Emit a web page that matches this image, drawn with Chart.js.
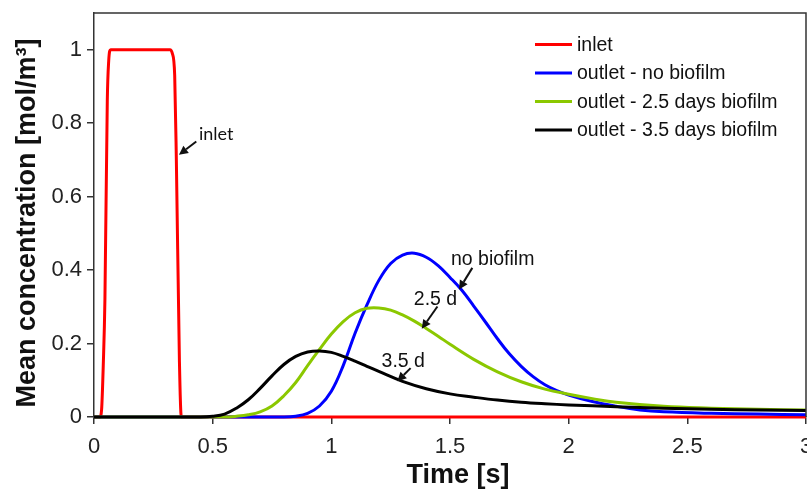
<!DOCTYPE html>
<html>
<head>
<meta charset="utf-8">
<script src="https://cdn.jsdelivr.net/npm/chart.js@4.4.1/dist/chart.umd.min.js"></script>
<style>
  html, body { margin: 0; padding: 0; background: #fff; overflow: hidden; }
  #wrap { position: relative; width: 807px; height: 493px; }
</style>
</head>
<body>
<div id="wrap"><canvas id="concChart"></canvas></div>
<script>
// Pulse tracer: inlet step and outlet response for three biofilm states
const inletTime = [0, 0.025, 0.032, 0.039, 0.046, 0.056, 0.062, 0.070, 0.320, 0.330, 0.340, 0.347, 0.360, 0.368, 3.0];
const inletConc = [0, 0, 0.02, 0.14, 0.32, 0.86, 0.97, 1.0, 1.0, 0.99, 0.93, 0.70, 0.15, 0, 0];

const noBiofilmTime = [0, 0.80, 0.85, 0.90, 0.95, 1.00, 1.05, 1.10, 1.15, 1.20, 1.25, 1.30, 1.35, 1.40, 1.45, 1.50, 1.55, 1.60, 1.65, 1.70, 1.75, 1.80, 1.85, 1.90, 1.95, 2.00, 2.10, 2.20, 2.30, 2.40, 2.60, 2.80, 3.00];
const noBiofilmConc = [0, 0, 0.002, 0.010, 0.030, 0.070, 0.140, 0.228, 0.305, 0.372, 0.418, 0.441, 0.446, 0.435, 0.412, 0.380, 0.345, 0.302, 0.258, 0.213, 0.172, 0.138, 0.110, 0.088, 0.072, 0.060, 0.042, 0.029, 0.019, 0.014, 0.010, 0.008, 0.006];

const days25Time = [0, 0.55, 0.60, 0.65, 0.70, 0.75, 0.80, 0.85, 0.90, 0.95, 1.00, 1.05, 1.10, 1.15, 1.20, 1.25, 1.30, 1.35, 1.40, 1.45, 1.50, 1.60, 1.70, 1.80, 1.90, 2.00, 2.10, 2.20, 2.40, 2.60, 2.80, 3.00];
const days25Conc = [0, 0, 0.002, 0.006, 0.014, 0.030, 0.058, 0.094, 0.140, 0.184, 0.226, 0.260, 0.284, 0.296, 0.297, 0.291, 0.278, 0.261, 0.241, 0.220, 0.198, 0.157, 0.123, 0.096, 0.076, 0.062, 0.050, 0.040, 0.029, 0.024, 0.021, 0.019];

const days35Time = [0, 0.45, 0.50, 0.55, 0.60, 0.65, 0.70, 0.75, 0.80, 0.85, 0.90, 0.95, 1.00, 1.05, 1.10, 1.15, 1.20, 1.30, 1.40, 1.50, 1.60, 1.70, 1.80, 1.90, 2.00, 2.20, 2.40, 2.60, 2.80, 3.00];
const days35Conc = [0, 0, 0.002, 0.008, 0.024, 0.047, 0.078, 0.112, 0.143, 0.165, 0.177, 0.180, 0.176, 0.165, 0.152, 0.138, 0.124, 0.097, 0.077, 0.063, 0.054, 0.046, 0.040, 0.036, 0.033, 0.028, 0.024, 0.021, 0.019, 0.018];

const seriesLabels = ['inlet', 'outlet - no biofilm', 'outlet - 2.5 days biofilm', 'outlet - 3.5 days biofilm'];
const seriesColors = ['#ff0000', '#0000ff', '#8bc800', '#000000'];

const xTicks = [0, 0.5, 1, 1.5, 2, 2.5, 3];
const yTicks = [0, 0.2, 0.4, 0.6, 0.8, 1];

const xTitle = 'Time [s]';
const yTitle = 'Mean concentration [mol/m³]';

// text callouts with arrows, in data units
const callouts = [
    { text: 'inlet', x: 0.442, y: 0.755, align: 'left', font: '18px Lato', from: [0.431, 0.750], to: [0.358, 0.714] },
    { text: 'no biofilm', x: 1.680, y: 0.415, align: 'center', font: '19.5px "Liberation Sans"', from: [1.594, 0.406], to: [1.538, 0.347] },
    { text: '2.5 d', x: 1.439, y: 0.306, align: 'center', font: '19.5px "Liberation Sans"', from: [1.447, 0.301], to: [1.381, 0.240] },
    { text: '3.5 d', x: 1.303, y: 0.137, align: 'center', font: '19.5px "Liberation Sans"', from: [1.334, 0.133], to: [1.278, 0.097] }
];

function toPoints(xs, ys) {
    return xs.map((x, i) => ({ x: x, y: ys[i] }));
}

const AXIS_COLOR = '#333';
const TITLE_FONT = 'bold 27px "Liberation Sans"';

function drawArrow(ctx, x1, y1, x2, y2) {
    const ang = Math.atan2(y2 - y1, x2 - x1);
    const head = 9;
    const bx = x2 - Math.cos(ang) * head;
    const by = y2 - Math.sin(ang) * head;
    ctx.beginPath();
    ctx.moveTo(x1, y1);
    ctx.lineTo(bx, by);
    ctx.stroke();
    ctx.beginPath();
    ctx.moveTo(x2, y2);
    ctx.lineTo(bx + Math.sin(ang) * 4.5, by - Math.cos(ang) * 4.5);
    ctx.lineTo(bx - Math.sin(ang) * 4.5, by + Math.cos(ang) * 4.5);
    ctx.closePath();
    ctx.fill();
}

// frame on top/right, axis titles, legend box and callouts
const decorPlugin = {
    id: 'decor',
    afterDraw(chart) {
        const ctx = chart.ctx;
        const area = chart.chartArea;
        const xs = chart.scales.x;
        const ys = chart.scales.y;
        ctx.save();

        ctx.strokeStyle = AXIS_COLOR;
        ctx.lineWidth = 1.5;
        ctx.beginPath();
        ctx.moveTo(area.left, area.top);
        ctx.lineTo(area.right, area.top);
        ctx.lineTo(area.right, area.bottom);
        ctx.stroke();

        // axis titles, nudged a little off centre
        ctx.fillStyle = '#111';
        ctx.font = TITLE_FONT;
        ctx.textAlign = 'center';
        ctx.textBaseline = 'middle';
        ctx.fillText(xTitle, (area.left + area.right) / 2 + 8, 476);
        ctx.save();
        ctx.translate(28, (area.top + area.bottom) / 2 + 8);
        ctx.rotate(-Math.PI / 2);
        ctx.fillText(yTitle, 0, 0);
        ctx.restore();

        // legend
        ctx.font = '19.5px "Liberation Sans"';
        ctx.textAlign = 'left';
        ctx.textBaseline = 'middle';
        chart.data.datasets.forEach((ds, i) => {
            const y = area.top + 31.5 + i * 28.5;
            ctx.strokeStyle = ds.borderColor;
            ctx.lineWidth = 3;
            ctx.beginPath();
            ctx.moveTo(area.right - 271, y);
            ctx.lineTo(area.right - 234, y);
            ctx.stroke();
            ctx.fillStyle = '#111';
            ctx.fillText(ds.label, area.right - 229, y + 1);
        });

        // callouts
        ctx.textBaseline = 'alphabetic';
        ctx.fillStyle = '#111';
        ctx.strokeStyle = '#111';
        ctx.lineWidth = 2;
        callouts.forEach(c => {
            ctx.font = c.font;
            ctx.textAlign = c.align;
            ctx.fillText(c.text, xs.getPixelForValue(c.x), ys.getPixelForValue(c.y));
            drawArrow(ctx,
                xs.getPixelForValue(c.from[0]), ys.getPixelForValue(c.from[1]),
                xs.getPixelForValue(c.to[0]), ys.getPixelForValue(c.to[1]));
        });
        ctx.restore();
    }
};

const pairs = [[inletTime, inletConc], [noBiofilmTime, noBiofilmConc], [days25Time, days25Conc], [days35Time, days35Conc]];
// red goes underneath, then blue, green, black on top
const drawOrder = [4, 3, 2, 1];

const ctx = document.getElementById('concChart').getContext('2d');
new Chart(ctx, {
    type: 'line',
    data: {
        datasets: pairs.map((p, i) => ({
            label: seriesLabels[i],
            data: toPoints(p[0], p[1]),
            borderColor: seriesColors[i],
            backgroundColor: seriesColors[i],
            borderWidth: 3,
            pointRadius: 0,
            // the step pulse keeps monotone, the outlet curves get plain smoothing
            cubicInterpolationMode: i === 0 ? 'monotone' : 'default',
            tension: i === 0 ? 0 : 0.4,
            order: drawOrder[i],
            clip: 4
        }))
    },
    options: {
        responsive: true,
        maintainAspectRatio: false,
        animation: false,
        layout: { padding: { top: 13, right: 1, left: 0, bottom: 0 } },
        plugins: {
            legend: { display: false },
            tooltip: { enabled: false }
        },
        scales: {
            x: {
                type: 'linear',
                min: 0,
                max: 3,
                afterBuildTicks: s => { s.ticks = xTicks.map(v => ({ value: v })); },
                afterFit: s => { s.height = 76; s.paddingLeft = 0; s.paddingRight = 0; },
                ticks: {
                    font: { family: 'Liberation Sans', size: 22 },
                    color: '#222',
                    padding: 10,
                    maxRotation: 0,
                    callback: v => String(v)
                },
                grid: { drawOnChartArea: false, drawTicks: true, tickLength: 7, color: AXIS_COLOR, lineWidth: 1.5 },
                border: { color: AXIS_COLOR, width: 1.5 }
            },
            y: {
                min: 0,
                max: 1.1,
                afterBuildTicks: s => { s.ticks = yTicks.map(v => ({ value: v })); },
                afterFit: s => { s.width = 94; s.paddingTop = 0; s.paddingBottom = 0; },
                ticks: {
                    font: { family: 'Liberation Sans', size: 22 },
                    color: '#222',
                    padding: 5,
                    callback: v => String(+v.toFixed(1))
                },
                grid: { drawOnChartArea: false, drawTicks: true, tickLength: 7, color: AXIS_COLOR, lineWidth: 1.5 },
                border: { color: AXIS_COLOR, width: 1.5 }
            }
        }
    },
    plugins: [decorPlugin]
});
</script>
</body>
</html>
